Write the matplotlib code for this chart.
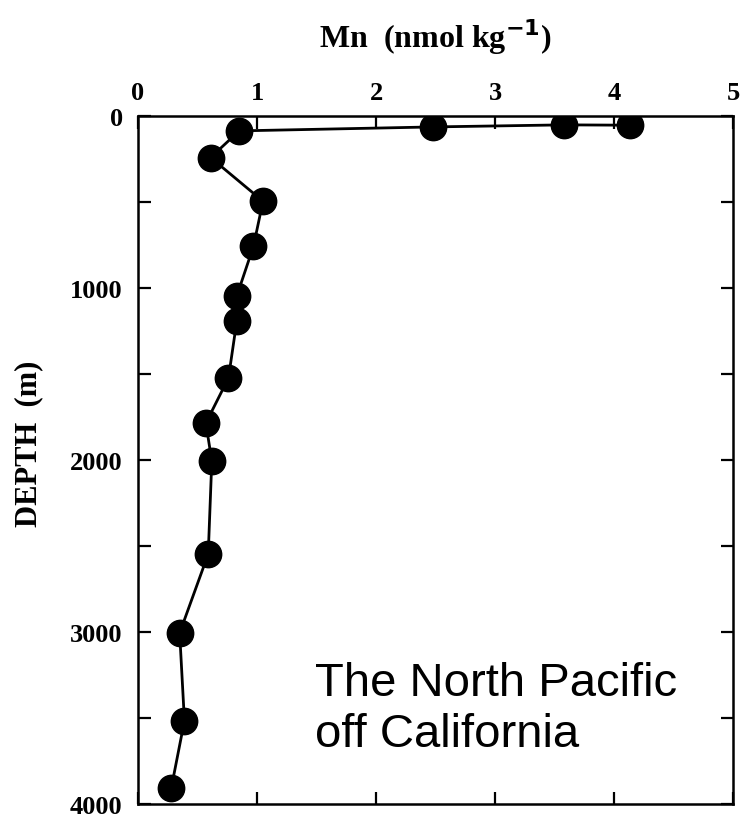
import matplotlib
matplotlib.use('Agg')
import matplotlib.pyplot as plt

# dissolved Mn profile, surface to bottom
mn_nmol_kg = [4.13, 3.58, 2.48, 0.85, 0.61, 1.05, 0.97, 0.83, 0.83,
              0.76, 0.57, 0.62, 0.59, 0.35, 0.39, 0.28]
depth_m = [52, 50, 62, 85, 240, 494, 756, 1045, 1190,
           1522, 1784, 2004, 2545, 3004, 3515, 3904]

x_ticks = [0, 1, 2, 3, 4, 5]
y_ticks = [0, 1000, 2000, 3000, 4000]
y_minor = [500, 1500, 2500, 3500]

serif = ['Liberation Serif', 'DejaVu Serif']

fig = plt.figure(figsize=(7.42, 8.2), dpi=100)
ax = fig.add_axes([0.186, 0.018, 0.802, 0.839])

ax.plot(mn_nmol_kg, depth_m, color='black', lw=2.0,
        marker='o', ms=19, mfc='black', mec='black', zorder=3)

ax.set_xlim(0, 5)
ax.set_ylim(4000, 0)

ax.xaxis.tick_top()
ax.xaxis.set_label_position('top')
ax.set_xticks(x_ticks)
ax.set_yticks(y_ticks)
ax.set_yticks(y_minor, minor=True)

ax.tick_params(axis='both', which='both', direction='in', length=9, width=1.6,
               top=True, bottom=True, left=True, right=True)
ax.tick_params(axis='x', pad=9)
ax.tick_params(axis='y', pad=11)
for lbl in ax.get_xticklabels() + ax.get_yticklabels():
    lbl.set_family(serif)
    lbl.set_fontweight('bold')
    lbl.set_fontsize(19)

for sp in ax.spines.values():
    sp.set_linewidth(1.8)

ax.set_xlabel('Mn  (nmol kg$^{\\mathbf{-1}}$)', family=serif, fontweight='bold',
              fontsize=23, labelpad=24)
ax.set_ylabel('DEPTH  (m)', family=serif, fontweight='bold', fontsize=22)
ax.yaxis.set_label_coords(-0.16, 0.525)

ax.text(0.297, 0.07, 'The North Pacific\noff California',
        transform=ax.transAxes, family=['Liberation Sans', 'DejaVu Sans'],
        fontsize=34, ha='left', va='bottom')

fig.savefig('out.png', dpi=100)
